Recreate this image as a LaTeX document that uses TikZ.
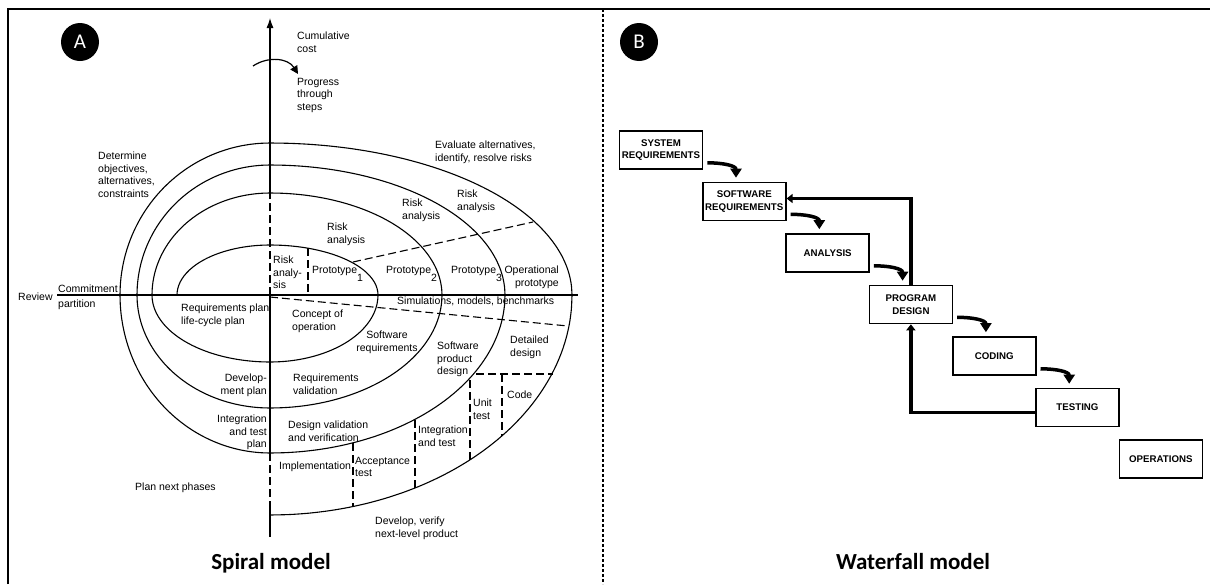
\documentclass[tikz,border=0pt]{standalone}
\usepackage{fontspec}
\setmainfont{Liberation Sans}
\newfontfamily\calfont{Carlito}
\usetikzlibrary{arrows.meta, positioning, calc}

\begin{document}
\begin{tikzpicture}[
    x=1pt, y=-1pt,
    every node/.style={inner sep=0pt},
    lbl/.style={font=\fontsize{10.5}{12.5}\selectfont, align=left},
    curve/.style={line width=1.1pt, line cap=round},
    dsh/.style={line width=1.1pt, dash pattern=on 8pt off 4pt},
    box/.style={draw, line width=1.6pt, minimum width=83pt, minimum height=38pt, align=center, font=\fontsize{9.7}{12.5}\selectfont\bfseries},
    flow/.style={line width=3.5pt, -{Triangle[length=9pt,width=11pt]}},
    back/.style={line width=3.5pt, -{Triangle[length=6pt,width=9pt]}},
    badge/.style={circle, fill=black, text=white, minimum size=38pt, font=\calfont\fontsize{21}{21}\selectfont},
    title/.style={font=\calfont\bfseries\fontsize{23}{23}\selectfont}
]
\path[use as bounding box, fill=white] (0,0) rectangle (1210,584);
% frame and divider
\draw[line width=2pt] (8,584) -- (8,9) -- (1210,9);
\draw[line width=2.5pt, dash pattern=on 2.5pt off 2.5pt] (603,9) -- (603,584);

% spiral, one quarter turn at a time
\foreach \s/\rx/\ry in {180/93/50, 270/108/50, 0/108/67, 90/118/67,
    180/118/102, 270/172/102, 0/172/113, 90/133/113,
    180/133/130, 270/235/130, 0/235/158, 90/150/158,
    180/150/152, 270/302/152, 0/302/220}
  \draw[curve] plot[smooth, samples=25, domain=\s:\s+90] ({270+\rx*cos(\x)}, {295+\ry*sin(\x)});

% axes
\draw[line width=1.1pt] (57,295) -- (578,295);
\draw[line width=1.1pt, -{Latex[length=10pt,width=7pt]}] (270,195) -- (270,18);
\draw[dsh] (270,295) -- (270,195);
\draw[line width=1.1pt] (270,295) -- (270,453);
\draw[dsh] (270,453) -- (270,502);
\draw[line width=1.1pt] (270,502) -- (270,537);
\draw[line width=1.2pt, -{Triangle[length=8pt,width=8pt]}] (253,66) .. controls (268,56) and (288,58) .. (298,74);

% partitions
\draw[dsh] (353,262) -- (533,222);
\draw[dsh] (270,297) -- (568,326);
\draw[dsh] (476,374) -- (553,374);
\foreach \px/\ya/\yb in {308/248/295, 353/443/507, 415/420/488, 470/380/462, 502/374/436}
  \draw[dsh] (\px,\ya) -- (\px,\yb);

% labels of the spiral
\node[lbl, anchor=north west] (cost) at (297,32) {Cumulative\\cost};
\node[lbl, anchor=north west] (progress) at (297,78) {Progress\\through\\steps};
\node[lbl, anchor=north west] (evaluate) at (435,141) {Evaluate alternatives,\\identify, resolve risks};
\node[lbl, anchor=north west] (determine) at (98,152) {Determine\\objectives,\\alternatives,\\constraints};
\node[lbl, anchor=north west] (riskc) at (457,190) {Risk\\analysis};
\node[lbl, anchor=north west] (riskb) at (402,199) {Risk\\analysis};
\node[lbl, anchor=north west] (riska) at (327,223) {Risk\\analysis};
\node[lbl, anchor=north west] (riskz) at (273,256) {Risk\\analy-\\sis};
\foreach \nm/\qx/\n in {protoa/312/1, protob/386/2, protoc/451/3}
  \node[lbl, anchor=north west] (\nm) at (\qx,266) {Prototype\raisebox{-8pt}{\n}};
\node[lbl, align=right, anchor=north east] (oper) at (559,266) {Operational\\prototype};
\node[lbl, anchor=base west] (review) at (18,300) {Review};
\node[lbl, anchor=base west] (commit) at (58,292) {Commitment};
\node[lbl, anchor=north west] (partition) at (58,300) {partition};
\node[lbl, anchor=north west] (simul) at (397,297) {Simulations, models, benchmarks};
\node[lbl, anchor=north west] (reqplan) at (181,304) {Requirements plan\\life-cycle plan};
\node[lbl, anchor=north west] (concept) at (292,310) {Concept of\\operation};
\node[lbl, align=center, anchor=north] (swreqs) at (387,331) {Software\\requirements};
\node[lbl, anchor=north west] (prodesign) at (437,342) {Software\\product\\design};
\node[lbl, anchor=north west] (detail) at (510,336) {Detailed\\design};
\node[lbl, align=right, anchor=north east] (devplan) at (267,374) {Develop-\\ment plan};
\node[lbl, anchor=north west] (reqval) at (293,374) {Requirements\\validation};
\node[lbl, anchor=north west] (code) at (507,391) {Code};
\node[lbl, anchor=north west] (unit) at (473,399) {Unit\\test};
\node[lbl, align=right, anchor=north east] (itplan) at (267,415) {Integration\\and test\\plan};
\node[lbl, anchor=north west] (desval) at (288,421) {Design validation\\and verification};
\node[lbl, anchor=north west] (inttest) at (418,426) {Integration\\and test};
\node[lbl, anchor=north west] (impl) at (279,462) {Implementation};
\node[lbl, anchor=north west] (accept) at (355,457) {Acceptance\\test};
\node[lbl, anchor=north west] (nextphase) at (135,483) {Plan next phases};
\node[lbl, anchor=north west] (develop) at (375,517) {Develop, verify\\next-level product};

% waterfall boxes, one step down and right each
\foreach \i/\nm/\txt in {0/sysreq/{SYSTEM\\REQUIREMENTS}, 1/swreq/{SOFTWARE\\REQUIREMENTS}, 2/analysis/ANALYSIS, 3/progdesign/{PROGRAM\\DESIGN}, 4/coding/CODING, 5/testing/TESTING, 6/operations/OPERATIONS}
  \node[box] (\nm) at ({661+83.3*\i},{150+51.5*\i}) {\txt};
\foreach \a/\b in {sysreq/swreq, swreq/analysis, analysis/progdesign, progdesign/coding, coding/testing}
  \draw[flow] ($(\a.south east)+(4,-7)$) .. controls +(16,0) and +(0,-12) .. ($(\b.north west)+(34,-4)$);
% feedback
\draw[back] ($(testing.west)+(0,5)$) -| (progdesign.south);
\draw[back] (progdesign.north) |- ($(swreq.east)+(0,-3)$);

\node[badge] (markA) at (80,42) {A};
\node[badge] (markB) at (639,42) {B};
\node[title, anchor=base] (spiraltitle) at (271,569) {Spiral model};
\node[title, anchor=base] (waterfalltitle) at (913,569) {Waterfall model};
\end{tikzpicture}
\end{document}
